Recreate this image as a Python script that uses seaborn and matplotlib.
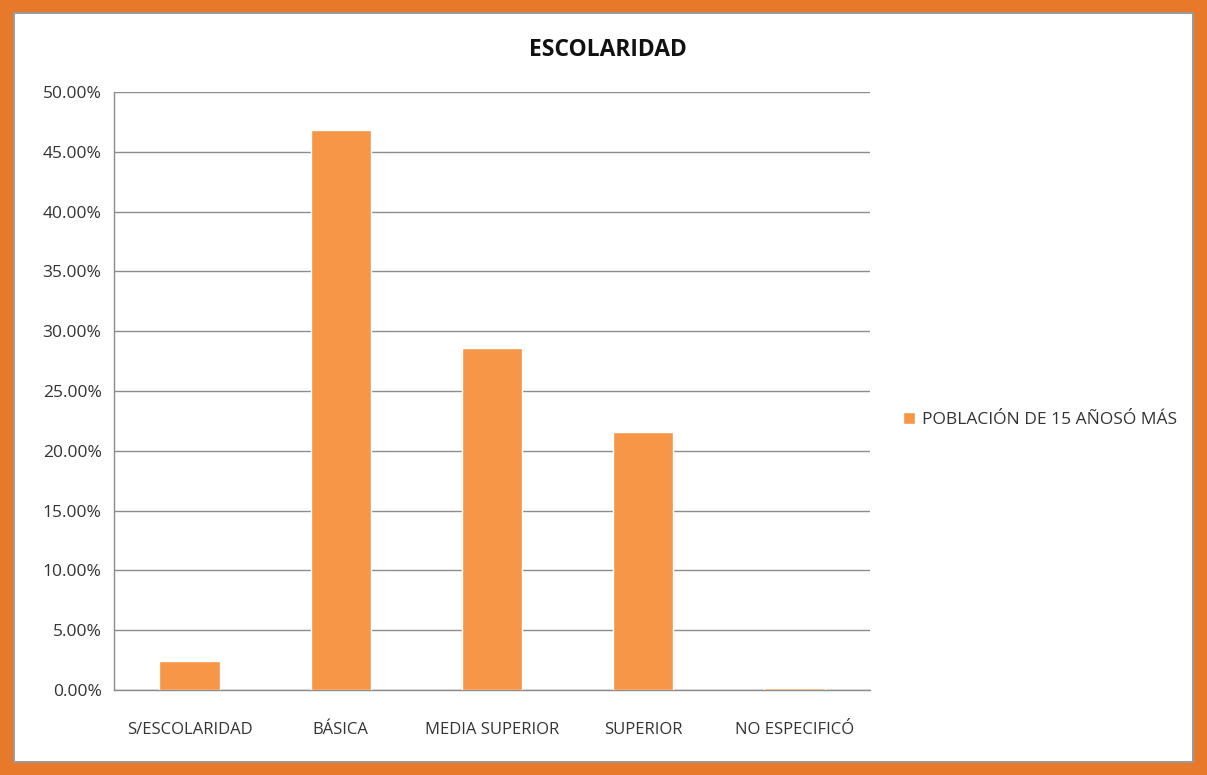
import matplotlib
matplotlib.use("Agg")
import matplotlib.pyplot as plt
import matplotlib.patches as mpatches
from matplotlib.ticker import FixedLocator, FuncFormatter
import seaborn as sns
import pandas as pd

categories = ["S/ESCOLARIDAD", "BÁSICA", "MEDIA SUPERIOR", "SUPERIOR", "NO ESPECIFICÓ"]
values = [2.42, 46.8, 28.6, 21.6, 0.15]
series_name = "POBLACIÓN DE 15 AÑOSÓ MÁS"
yticks = [0, 5, 10, 15, 20, 25, 30, 35, 40, 45, 50]

sns.set_style("white")
plt.rcParams['font.family'] = ['Open Sans', 'DejaVu Sans']

df = pd.DataFrame({"cat": categories, "val": values, "serie": series_name})

fig = plt.figure(figsize=(12.07, 7.75), dpi=100)
# frame
fig.patches.append(mpatches.Rectangle((0, 0), 1, 1, transform=fig.transFigure,
                                      facecolor="#E8792A", edgecolor="none", zorder=-10))
fig.patches.append(mpatches.Rectangle((13/1207, 12/775), 1 - 26/1207, 1 - 24/775,
                                      transform=fig.transFigure, facecolor="#9a9a9a",
                                      edgecolor="none", zorder=-9))
fig.patches.append(mpatches.Rectangle((15/1207, 14/775), 1 - 30/1207, 1 - 28/775,
                                      transform=fig.transFigure, facecolor="white",
                                      edgecolor="none", zorder=-8))

ax = fig.add_axes([114/1207, 1 - 690/775, (870 - 114)/1207, (690 - 92)/775])
ax.set_facecolor("none")
sns.barplot(data=df, x="cat", y="val", hue="serie", palette=["#F79646"],
            width=0.4, ax=ax, saturation=1, zorder=3)

ax.set_ylim(0, 50)
ax.set_xlim(-0.5, 4.5)
ax.yaxis.set_major_locator(FixedLocator(yticks))
ax.yaxis.set_major_formatter(FuncFormatter(lambda v, p: f"{v:.2f}%"))
ax.grid(axis="y", color="#8c8c8c", linewidth=1.0)
ax.set_axisbelow(True)
for s in ["top", "right"]:
    ax.spines[s].set_visible(False)
for s in ["left", "bottom"]:
    ax.spines[s].set_color("#8c8c8c")
    ax.spines[s].set_linewidth(1.0)
ax.tick_params(axis="y", length=6, color="#8c8c8c", labelsize=12.5, labelcolor="#333333", pad=3)
ax.tick_params(axis="x", which="major", length=0, labelsize=12, labelcolor="#333333", pad=23)
ax.set_xticks([-0.5, 0.5, 1.5, 2.5, 3.5, 4.5], minor=True)
ax.tick_params(axis="x", which="minor", length=6, color="#8c8c8c")
ax.set_xlabel("")
ax.set_ylabel("")

fig.text(608/1207, 1 - 50/775, "ESCOLARIDAD", ha="center", va="center",
         fontsize=16.5, fontweight="bold", color="#111111")

leg = ax.legend(loc="center left", bbox_to_anchor=(887/1207, 1 - 420/775),
                bbox_transform=fig.transFigure, frameon=False, fontsize=12.5,
                handlelength=0.7, handleheight=0.7, handletextpad=0.4)
for t in leg.get_texts():
    t.set_color("#333333")

fig.savefig("out.png", dpi=100)
